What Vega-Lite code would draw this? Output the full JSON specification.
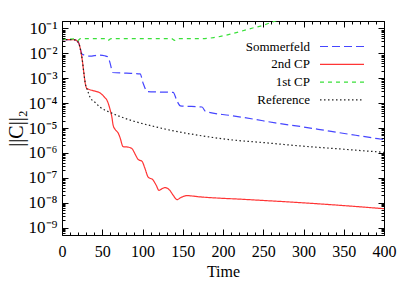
{
  "$schema": "https://vega.github.io/schema/vega-lite/v6.json",
  "autosize": {"type": "none"},
  "width": 322,
  "height": 214,
  "padding": {"left": 62, "top": 21, "right": 31, "bottom": 56},
  "config": {
    "font": "Liberation Serif",
    "view": {"stroke": "#000000", "strokeWidth": 1},
    "axis": {"domain": false, "grid": false, "tickColor": "#000000", "tickWidth": 1, "labelColor": "#000000", "titleColor": "#000000", "labelFont": "Liberation Serif", "titleFont": "Liberation Serif", "titleFontWeight": "normal"},
    "legend": {
      "orient": "none", "legendX": 273.5, "legendY": 19, "title": null,
      "symbolType": "M-4,0H4", "symbolSize": 121, "symbolStrokeWidth": 1.2,
      "labelAlign": "right", "labelOffset": -38.5, "labelFontSize": 13, "labelFont": "Liberation Serif", "labelColor": "#000000",
      "rowPadding": 3.8
    }
  },
  "data": {
    "values": [
      {"s": "Sommerfeld", "t": 0, "v": 0.036},
      {"s": "Sommerfeld", "t": 10, "v": 0.036},
      {"s": "Sommerfeld", "t": 16, "v": 0.035},
      {"s": "Sommerfeld", "t": 19, "v": 0.031},
      {"s": "Sommerfeld", "t": 21, "v": 0.025},
      {"s": "Sommerfeld", "t": 23, "v": 0.014},
      {"s": "Sommerfeld", "t": 25, "v": 0.0092},
      {"s": "Sommerfeld", "t": 28, "v": 0.0085},
      {"s": "Sommerfeld", "t": 35, "v": 0.0077},
      {"s": "Sommerfeld", "t": 45, "v": 0.0085},
      {"s": "Sommerfeld", "t": 53, "v": 0.008},
      {"s": "Sommerfeld", "t": 57, "v": 0.0072},
      {"s": "Sommerfeld", "t": 60, "v": 0.0038},
      {"s": "Sommerfeld", "t": 63, "v": 0.0017},
      {"s": "Sommerfeld", "t": 80, "v": 0.0016},
      {"s": "Sommerfeld", "t": 97, "v": 0.0015},
      {"s": "Sommerfeld", "t": 101, "v": 0.0006},
      {"s": "Sommerfeld", "t": 106, "v": 0.00029},
      {"s": "Sommerfeld", "t": 120, "v": 0.00028},
      {"s": "Sommerfeld", "t": 138, "v": 0.00027},
      {"s": "Sommerfeld", "t": 143, "v": 0.00012},
      {"s": "Sommerfeld", "t": 147, "v": 0.000077},
      {"s": "Sommerfeld", "t": 174, "v": 0.00007},
      {"s": "Sommerfeld", "t": 178, "v": 0.000047},
      {"s": "Sommerfeld", "t": 181, "v": 0.000044},
      {"s": "Sommerfeld", "t": 209, "v": 0.000032},
      {"s": "Sommerfeld", "t": 237, "v": 0.000023},
      {"s": "Sommerfeld", "t": 265, "v": 0.000016},
      {"s": "Sommerfeld", "t": 296, "v": 0.0000115},
      {"s": "Sommerfeld", "t": 330, "v": 0.0000077},
      {"s": "Sommerfeld", "t": 365, "v": 0.0000051},
      {"s": "Sommerfeld", "t": 400, "v": 0.0000034},

      {"s": "2nd CP", "t": 0, "v": 0.036},
      {"s": "2nd CP", "t": 10, "v": 0.036},
      {"s": "2nd CP", "t": 16, "v": 0.035},
      {"s": "2nd CP", "t": 19, "v": 0.031},
      {"s": "2nd CP", "t": 21, "v": 0.025},
      {"s": "2nd CP", "t": 23, "v": 0.014},
      {"s": "2nd CP", "t": 25, "v": 0.006},
      {"s": "2nd CP", "t": 27, "v": 0.0018},
      {"s": "2nd CP", "t": 29, "v": 0.0006},
      {"s": "2nd CP", "t": 31, "v": 0.00038},
      {"s": "2nd CP", "t": 33, "v": 0.00036},
      {"s": "2nd CP", "t": 40, "v": 0.00031},
      {"s": "2nd CP", "t": 47, "v": 0.00026},
      {"s": "2nd CP", "t": 53, "v": 0.00017},
      {"s": "2nd CP", "t": 56, "v": 0.000128},
      {"s": "2nd CP", "t": 60, "v": 0.000051},
      {"s": "2nd CP", "t": 62, "v": 0.000027},
      {"s": "2nd CP", "t": 63.5, "v": 0.000013},
      {"s": "2nd CP", "t": 66, "v": 0.0000088},
      {"s": "2nd CP", "t": 70, "v": 0.0000061},
      {"s": "2nd CP", "t": 72, "v": 0.0000042},
      {"s": "2nd CP", "t": 76, "v": 0.00000177},
      {"s": "2nd CP", "t": 82, "v": 0.00000171},
      {"s": "2nd CP", "t": 87, "v": 0.00000147},
      {"s": "2nd CP", "t": 91, "v": 0.00000087},
      {"s": "2nd CP", "t": 94.5, "v": 0.00000055},
      {"s": "2nd CP", "t": 99.5, "v": 0.000000455},
      {"s": "2nd CP", "t": 103, "v": 0.00000024},
      {"s": "2nd CP", "t": 107, "v": 0.000000107},
      {"s": "2nd CP", "t": 113, "v": 0.000000082},
      {"s": "2nd CP", "t": 117, "v": 0.00000005},
      {"s": "2nd CP", "t": 120.5, "v": 0.000000031},
      {"s": "2nd CP", "t": 124, "v": 0.000000036},
      {"s": "2nd CP", "t": 128, "v": 0.00000004},
      {"s": "2nd CP", "t": 134, "v": 0.000000031},
      {"s": "2nd CP", "t": 138, "v": 0.00000002},
      {"s": "2nd CP", "t": 143, "v": 0.0000000132},
      {"s": "2nd CP", "t": 147, "v": 0.0000000156},
      {"s": "2nd CP", "t": 155, "v": 0.0000000191},
      {"s": "2nd CP", "t": 171, "v": 0.0000000171},
      {"s": "2nd CP", "t": 230, "v": 0.0000000133},
      {"s": "2nd CP", "t": 296, "v": 0.00000001},
      {"s": "2nd CP", "t": 350, "v": 0.0000000076},
      {"s": "2nd CP", "t": 400, "v": 0.0000000057},

      {"s": "1st CP", "t": 0, "v": 0.036},
      {"s": "1st CP", "t": 15, "v": 0.038},
      {"s": "1st CP", "t": 19, "v": 0.032},
      {"s": "1st CP", "t": 23, "v": 0.039},
      {"s": "1st CP", "t": 54, "v": 0.039},
      {"s": "1st CP", "t": 57, "v": 0.033},
      {"s": "1st CP", "t": 61, "v": 0.039},
      {"s": "1st CP", "t": 100, "v": 0.039},
      {"s": "1st CP", "t": 136, "v": 0.039},
      {"s": "1st CP", "t": 140, "v": 0.033},
      {"s": "1st CP", "t": 144, "v": 0.039},
      {"s": "1st CP", "t": 175, "v": 0.039},
      {"s": "1st CP", "t": 190, "v": 0.044},
      {"s": "1st CP", "t": 209, "v": 0.059},
      {"s": "1st CP", "t": 223, "v": 0.078},
      {"s": "1st CP", "t": 237, "v": 0.105},
      {"s": "1st CP", "t": 250, "v": 0.135},
      {"s": "1st CP", "t": 261, "v": 0.18},
      {"s": "1st CP", "t": 270, "v": 0.23},

      {"s": "Reference", "t": 0, "v": 0.036},
      {"s": "Reference", "t": 10, "v": 0.036},
      {"s": "Reference", "t": 16, "v": 0.035},
      {"s": "Reference", "t": 19, "v": 0.031},
      {"s": "Reference", "t": 21, "v": 0.025},
      {"s": "Reference", "t": 23, "v": 0.014},
      {"s": "Reference", "t": 25, "v": 0.006},
      {"s": "Reference", "t": 27, "v": 0.0018},
      {"s": "Reference", "t": 29, "v": 0.0006},
      {"s": "Reference", "t": 31, "v": 0.00038},
      {"s": "Reference", "t": 35, "v": 0.00017},
      {"s": "Reference", "t": 41, "v": 0.000107},
      {"s": "Reference", "t": 47, "v": 0.00007},
      {"s": "Reference", "t": 60, "v": 0.000042},
      {"s": "Reference", "t": 72, "v": 0.000029},
      {"s": "Reference", "t": 88, "v": 0.0000193},
      {"s": "Reference", "t": 109, "v": 0.0000127},
      {"s": "Reference", "t": 130, "v": 0.0000088},
      {"s": "Reference", "t": 171, "v": 0.000005},
      {"s": "Reference", "t": 212, "v": 0.0000033},
      {"s": "Reference", "t": 250, "v": 0.0000026},
      {"s": "Reference", "t": 296, "v": 0.0000019},
      {"s": "Reference", "t": 350, "v": 0.0000014},
      {"s": "Reference", "t": 400, "v": 0.00000105}
    ]
  },
  "resolve": {"axis": {"x": "independent", "y": "independent"}},
  "layer": [
    {
      "mark": {"type": "line", "clip": true, "strokeWidth": 1.2, "interpolate": "monotone"},
      "encoding": {
        "x": {
          "field": "t", "type": "quantitative",
          "scale": {"domain": [0, 400], "nice": false, "zero": false},
          "axis": {
            "orient": "bottom", "title": "Time",
            "values": [0,10,20,30,40,50,60,70,80,90,100,110,120,130,140,150,160,170,180,190,200,210,220,230,240,250,260,270,280,290,300,310,320,330,340,350,360,370,380,390,400],
            "labelExpr": "datum.value % 50 == 0 ? datum.label : ''",
            "tickSize": {"condition": {"test": "datum.value % 50 == 0", "value": -6}, "value": -3},
            "labelPadding": 14, "labelFontSize": 16, "titleFontSize": 16, "titlePadding": 1,
            "labelFlush": false, "labelOverlap": false
          }
        },
        "y": {
          "field": "v", "type": "quantitative",
          "scale": {"type": "log", "domain": [5e-10, 0.2], "nice": false},
          "axis": {
            "orient": "left", "title": "||C||₂",
            "values": [5e-10,6e-10,7e-10,8e-10,9e-10,1e-9,2e-9,3e-9,4e-9,5e-9,6e-9,7e-9,8e-9,9e-9,1e-8,2e-8,3e-8,4e-8,5e-8,6e-8,7e-8,8e-8,9e-8,1e-7,2e-7,3e-7,4e-7,5e-7,6e-7,7e-7,8e-7,9e-7,1e-6,2e-6,3e-6,4e-6,5e-6,6e-6,7e-6,8e-6,9e-6,1e-5,2e-5,3e-5,4e-5,5e-5,6e-5,7e-5,8e-5,9e-5,1e-4,2e-4,3e-4,4e-4,5e-4,6e-4,7e-4,8e-4,9e-4,1e-3,2e-3,3e-3,4e-3,5e-3,6e-3,7e-3,8e-3,9e-3,1e-2,2e-2,3e-2,4e-2,5e-2,6e-2,7e-2,8e-2,9e-2,1e-1,2e-1],
            "labelExpr": "abs(log(datum.value)/LN10 - round(log(datum.value)/LN10)) < 0.001 ? '10⁻' + ['⁰','¹','²','³','⁴','⁵','⁶','⁷','⁸','⁹'][-round(log(datum.value)/LN10)] : ''",
            "tickSize": {"condition": {"test": "abs(log(datum.value)/LN10 - round(log(datum.value)/LN10)) < 0.001", "value": -6}, "value": -3},
            "labelPadding": 11, "labelFontSize": 17, "titleFontSize": 20, "titlePadding": 2,
            "labelFlush": false, "labelOverlap": false
          }
        },
        "color": {
          "field": "s", "type": "nominal",
          "scale": {"domain": ["Sommerfeld", "2nd CP", "1st CP", "Reference"], "range": ["#4646ff", "#ff3535", "#3ae03a", "#222222"]}
        },
        "strokeDash": {
          "field": "s", "type": "nominal",
          "scale": {"domain": ["Sommerfeld", "2nd CP", "1st CP", "Reference"], "range": [[8, 4], [1, 0], [4, 4], [1.5, 2.5]]}
        }
      }
    },
    {
      "mark": {"type": "line", "opacity": 0, "strokeOpacity": 0},
      "encoding": {
        "x": {
          "field": "t", "type": "quantitative",
          "scale": {"domain": [0, 400], "nice": false, "zero": false},
          "axis": {
            "orient": "top", "title": null, "labels": false,
            "values": [0,10,20,30,40,50,60,70,80,90,100,110,120,130,140,150,160,170,180,190,200,210,220,230,240,250,260,270,280,290,300,310,320,330,340,350,360,370,380,390,400],
            "tickSize": {"condition": {"test": "datum.value % 50 == 0", "value": -6}, "value": -3}
          }
        },
        "y": {
          "field": "v", "type": "quantitative",
          "scale": {"type": "log", "domain": [5e-10, 0.2], "nice": false},
          "axis": {
            "orient": "right", "title": null, "labels": false,
            "values": [5e-10,6e-10,7e-10,8e-10,9e-10,1e-9,2e-9,3e-9,4e-9,5e-9,6e-9,7e-9,8e-9,9e-9,1e-8,2e-8,3e-8,4e-8,5e-8,6e-8,7e-8,8e-8,9e-8,1e-7,2e-7,3e-7,4e-7,5e-7,6e-7,7e-7,8e-7,9e-7,1e-6,2e-6,3e-6,4e-6,5e-6,6e-6,7e-6,8e-6,9e-6,1e-5,2e-5,3e-5,4e-5,5e-5,6e-5,7e-5,8e-5,9e-5,1e-4,2e-4,3e-4,4e-4,5e-4,6e-4,7e-4,8e-4,9e-4,1e-3,2e-3,3e-3,4e-3,5e-3,6e-3,7e-3,8e-3,9e-3,1e-2,2e-2,3e-2,4e-2,5e-2,6e-2,7e-2,8e-2,9e-2,1e-1,2e-1],
            "tickSize": {"condition": {"test": "abs(log(datum.value)/LN10 - round(log(datum.value)/LN10)) < 0.001", "value": -6}, "value": -3}
          }
        },
        "detail": {"field": "s", "type": "nominal"}
      }
    }
  ]
}
